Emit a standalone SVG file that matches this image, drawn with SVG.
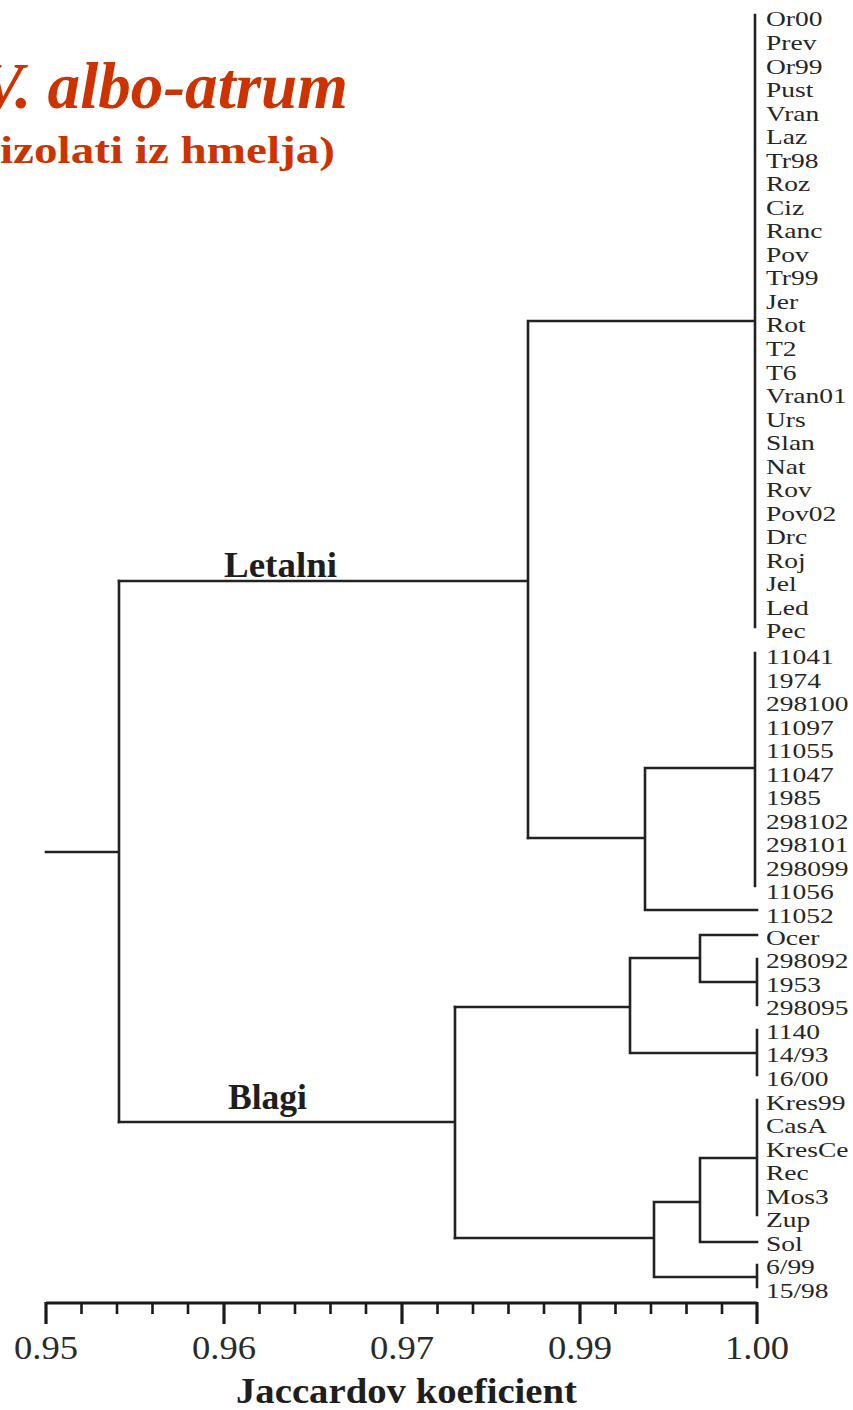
<svg xmlns="http://www.w3.org/2000/svg" width="853" height="1410" viewBox="0 0 853 1410">
  <style>
    text { font-family: "Liberation Serif", Tinos, "Times New Roman", Times, "Nimbus Roman", FreeSerif, serif; }
    .title { font-weight: bold; fill: #cc3300; }
    .leaf { font-size: 22px; fill: #262626; }
    .cluster { font-size: 35px; font-weight: bold; fill: #1e1e1e; }
    .tick { font-size: 34px; fill: #2a2a2a; text-anchor: middle; }
    .axtitle { font-size: 36px; font-weight: bold; fill: #1e1e1e; }
    .branch { fill: none; stroke: #222222; stroke-width: 2.6; stroke-linecap: square; }
    .axis { fill: none; stroke: #1a1a1a; stroke-width: 3.2; }
    .minor { fill: none; stroke: #1a1a1a; stroke-width: 2.6; }
  </style>
  <rect width="853" height="1410" fill="#ffffff"/>

  <!-- heading -->
  <g id="title">
    <text class="title" x="-20" y="108" font-size="66" font-style="italic" textLength="368" lengthAdjust="spacingAndGlyphs">V. albo-atrum</text>
    <text class="title" x="0" y="163" font-size="37" textLength="335" lengthAdjust="spacingAndGlyphs">izolati iz hmelja)</text>
  </g>

  <!-- dendrogram branches -->
  <g id="connectors" class="branch">
    <path d="M46 852 H119 M119 581 V1122"/>
    <!-- Letalni -->
    <path d="M119 581 H528 M528 321 V838 M528 321 H755 M755 15 V627"/>
    <path d="M528 838 H645 M645 768 V910 M645 768 H755 M755 653 V886 M645 910 H757"/>
    <!-- Blagi -->
    <path d="M119 1122 H455 M455 1007 V1238"/>
    <path d="M455 1007 H630 M630 958 V1053 M630 958 H700 M700 935 V982 M700 935 H757 M700 982 H757 M757 959 V1005 M630 1053 H757 M757 1030 V1075"/>
    <path d="M455 1238 H654 M654 1202 V1277 M654 1202 H700 M700 1158 V1242 M700 1158 H757 M757 1100 V1215 M700 1242 H757 M654 1277 H757 M757 1265 V1287"/>
  </g>

  <g id="cluster-letalni"><text class="cluster" x="224" y="577" textLength="113" lengthAdjust="spacingAndGlyphs">Letalni</text></g>
  <g id="cluster-blagi"><text class="cluster" x="228" y="1109" textLength="79" lengthAdjust="spacingAndGlyphs">Blagi</text></g>

  <!-- isolate labels, set slightly wide -->
  <g id="leaves" transform="translate(766 0) scale(1.25 1)">
    <text class="leaf" x="0" y="26.5">Or00</text>
    <text class="leaf" x="0" y="50.0">Prev</text>
    <text class="leaf" x="0" y="73.6">Or99</text>
    <text class="leaf" x="0" y="97.1">Pust</text>
    <text class="leaf" x="0" y="120.7">Vran</text>
    <text class="leaf" x="0" y="144.2">Laz</text>
    <text class="leaf" x="0" y="167.7">Tr98</text>
    <text class="leaf" x="0" y="191.3">Roz</text>
    <text class="leaf" x="0" y="214.8">Ciz</text>
    <text class="leaf" x="0" y="238.4">Ranc</text>
    <text class="leaf" x="0" y="261.9">Pov</text>
    <text class="leaf" x="0" y="285.4">Tr99</text>
    <text class="leaf" x="0" y="309.0">Jer</text>
    <text class="leaf" x="0" y="332.5">Rot</text>
    <text class="leaf" x="0" y="356.1">T2</text>
    <text class="leaf" x="0" y="379.6">T6</text>
    <text class="leaf" x="0" y="403.1">Vran01</text>
    <text class="leaf" x="0" y="426.7">Urs</text>
    <text class="leaf" x="0" y="450.2">Slan</text>
    <text class="leaf" x="0" y="473.8">Nat</text>
    <text class="leaf" x="0" y="497.3">Rov</text>
    <text class="leaf" x="0" y="520.8">Pov02</text>
    <text class="leaf" x="0" y="544.4">Drc</text>
    <text class="leaf" x="0" y="567.9">Roj</text>
    <text class="leaf" x="0" y="591.5">Jel</text>
    <text class="leaf" x="0" y="615.0">Led</text>
    <text class="leaf" x="0" y="638.5">Pec</text>
    <text class="leaf" x="0" y="664.1">11041</text>
    <text class="leaf" x="0" y="687.6">1974</text>
    <text class="leaf" x="0" y="711.1">298100</text>
    <text class="leaf" x="0" y="734.6">11097</text>
    <text class="leaf" x="0" y="758.1">11055</text>
    <text class="leaf" x="0" y="781.6">11047</text>
    <text class="leaf" x="0" y="805.1">1985</text>
    <text class="leaf" x="0" y="828.6">298102</text>
    <text class="leaf" x="0" y="852.1">298101</text>
    <text class="leaf" x="0" y="875.6">298099</text>
    <text class="leaf" x="0" y="899.1">11056</text>
    <text class="leaf" x="0" y="922.6">11052</text>
    <text class="leaf" x="0" y="944.8">Ocer</text>
    <text class="leaf" x="0" y="968.3">298092</text>
    <text class="leaf" x="0" y="991.9">1953</text>
    <text class="leaf" x="0" y="1015.4">298095</text>
    <text class="leaf" x="0" y="1039.0">1140</text>
    <text class="leaf" x="0" y="1062.5">14/93</text>
    <text class="leaf" x="0" y="1086.0">16/00</text>
    <text class="leaf" x="0" y="1109.6">Kres99</text>
    <text class="leaf" x="0" y="1133.1">CasA</text>
    <text class="leaf" x="0" y="1156.7">KresCe</text>
    <text class="leaf" x="0" y="1180.2">Rec</text>
    <text class="leaf" x="0" y="1203.7">Mos3</text>
    <text class="leaf" x="0" y="1227.3">Zup</text>
    <text class="leaf" x="0" y="1250.8">Sol</text>
    <text class="leaf" x="0" y="1274.4">6/99</text>
    <text class="leaf" x="0" y="1297.9">15/98</text>
  </g>

  <!-- similarity scale -->
  <g id="axis">
    <path class="axis" d="M46 1303 H757 M46 1302 V1324 M224 1303 V1324 M402 1303 V1324 M580 1303 V1324 M757 1302 V1324"/>
    <path class="minor" d="M81.5 1303 V1314 M117 1303 V1314 M152.5 1303 V1314 M188 1303 V1314
                           M259.5 1303 V1314 M295 1303 V1314 M330.5 1303 V1314 M366 1303 V1314
                           M437.5 1303 V1314 M473 1303 V1314 M508.5 1303 V1314 M544 1303 V1314
                           M615.5 1303 V1314 M651 1303 V1314 M686.5 1303 V1314 M722 1303 V1314"/>
    <text class="tick" x="46" y="1359" textLength="64" lengthAdjust="spacingAndGlyphs">0.95</text>
    <text class="tick" x="224" y="1359" textLength="64" lengthAdjust="spacingAndGlyphs">0.96</text>
    <text class="tick" x="402" y="1359" textLength="64" lengthAdjust="spacingAndGlyphs">0.97</text>
    <text class="tick" x="580" y="1359" textLength="64" lengthAdjust="spacingAndGlyphs">0.99</text>
    <text class="tick" x="757" y="1359" textLength="64" lengthAdjust="spacingAndGlyphs">1.00</text>
    <text class="axtitle" x="236" y="1403" textLength="341" lengthAdjust="spacingAndGlyphs">Jaccardov koeficient</text>
  </g>
</svg>
